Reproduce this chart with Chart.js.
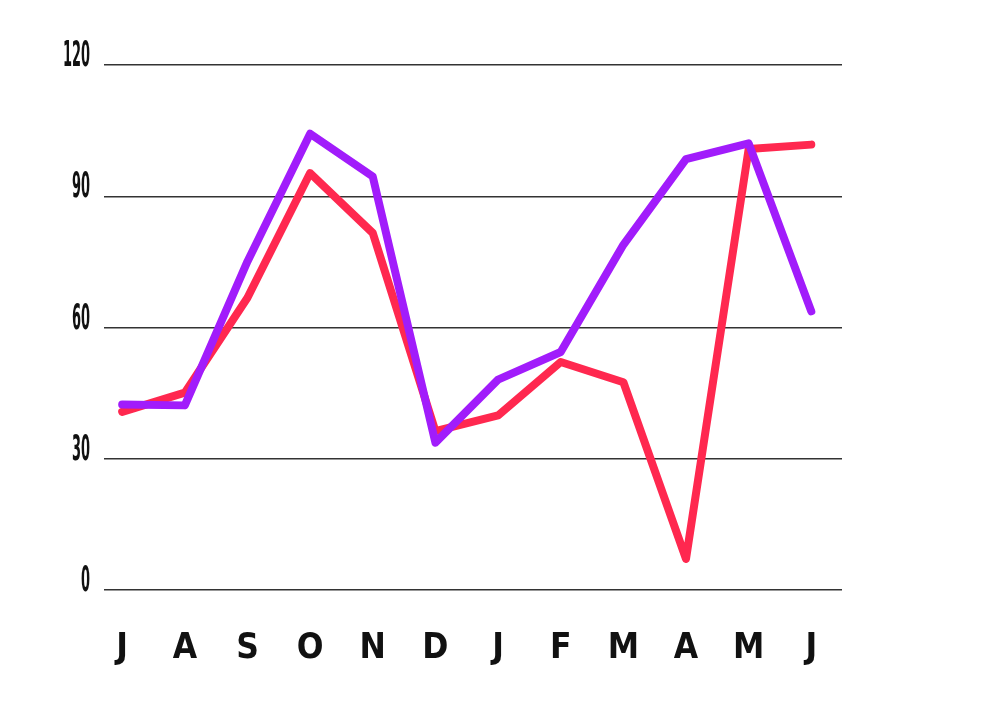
<!DOCTYPE html>
<html>
<head>
<meta charset="utf-8">
<script src="https://cdn.jsdelivr.net/npm/chart.js@4"></script>
<style>
  html, body { margin: 0; padding: 0; background: #fff; }
  #wrap { width: 1004px; height: 709px; }
</style>
</head>
<body>
<div id="wrap"><canvas id="myChart"></canvas></div>
<script>
const months = ['J', 'A', 'S', 'O', 'N', 'D', 'J', 'F', 'M', 'A', 'M', 'J'];
const redValues = [40.7, 45.1, 66.8, 95.3, 81.6, 36.3, 39.9, 52.1, 47.5, 7.1, 100.8, 101.8];
const purpleValues = [42.4, 42.2, 75.1, 104.3, 94.5, 33.7, 48.1, 54.4, 78.9, 98.5, 102.1, 63.7];
const yMin = 0;
const yMax = 120;
const yStep = 30;

const fontFamily = '"Liberation Sans Narrow", "DejaVu Sans Condensed", sans-serif';

// y labels are very narrow in the original, so draw them squeezed
const condensedYLabels = {
  id: 'condensedYLabels',
  afterDraw(chart) {
    const y = chart.scales.y;
    const ctx = chart.ctx;
    ctx.save();
    ctx.font = 'bold 36px ' + fontFamily;
    ctx.fillStyle = '#111';
    ctx.textAlign = 'right';
    ctx.textBaseline = 'alphabetic';
    y.ticks.forEach(t => {
      const py = y.getPixelForValue(t.value);
      ctx.save();
      ctx.translate(90, py + 1);
      ctx.scale(0.4, 1);
      ctx.fillText(String(t.value), 0, 0);
      ctx.restore();
    });
    ctx.restore();
  }
};

const toPoints = arr => arr.map((v, i) => ({ x: i, y: v }));

const ctx = document.getElementById('myChart').getContext('2d');
const myChart = new Chart(ctx, {
  type: 'line',
  data: {
    datasets: [
      {
        label: 'purple',
        data: toPoints(purpleValues),
        borderColor: '#a11cfb',
        borderWidth: 8,
        borderCapStyle: 'round',
        borderJoinStyle: 'round',
        pointRadius: 0,
        tension: 0,
        fill: false
      },
      {
        label: 'red',
        data: toPoints(redValues),
        borderColor: '#ff284f',
        borderWidth: 8,
        borderCapStyle: 'round',
        borderJoinStyle: 'round',
        pointRadius: 0,
        tension: 0,
        fill: false
      }
    ]
  },
  options: {
    responsive: true,
    maintainAspectRatio: false,
    animation: false,
    layout: { padding: { left: 104, right: 162, top: 65, bottom: 2 } },
    plugins: {
      legend: { display: false },
      tooltip: { enabled: false }
    },
    scales: {
      x: {
        type: 'linear',
        min: -0.29,
        max: 11.49,
        afterBuildTicks: scale => {
          scale.ticks = months.map((m, i) => ({ value: i }));
        },
        grid: { display: false, drawTicks: false },
        border: { display: false },
        ticks: {
          autoSkip: false,
          maxRotation: 0,
          padding: 41,
          color: '#111',
          font: { family: fontFamily, size: 35, weight: 'bold', lineHeight: 1 },
          callback: value => months[value]
        }
      },
      y: {
        min: yMin,
        max: yMax,
        grid: { color: '#333', lineWidth: 1.5, drawTicks: false },
        border: { display: false },
        ticks: { stepSize: yStep, display: false }
      }
    }
  },
  plugins: [condensedYLabels]
});
</script>
</body>
</html>
